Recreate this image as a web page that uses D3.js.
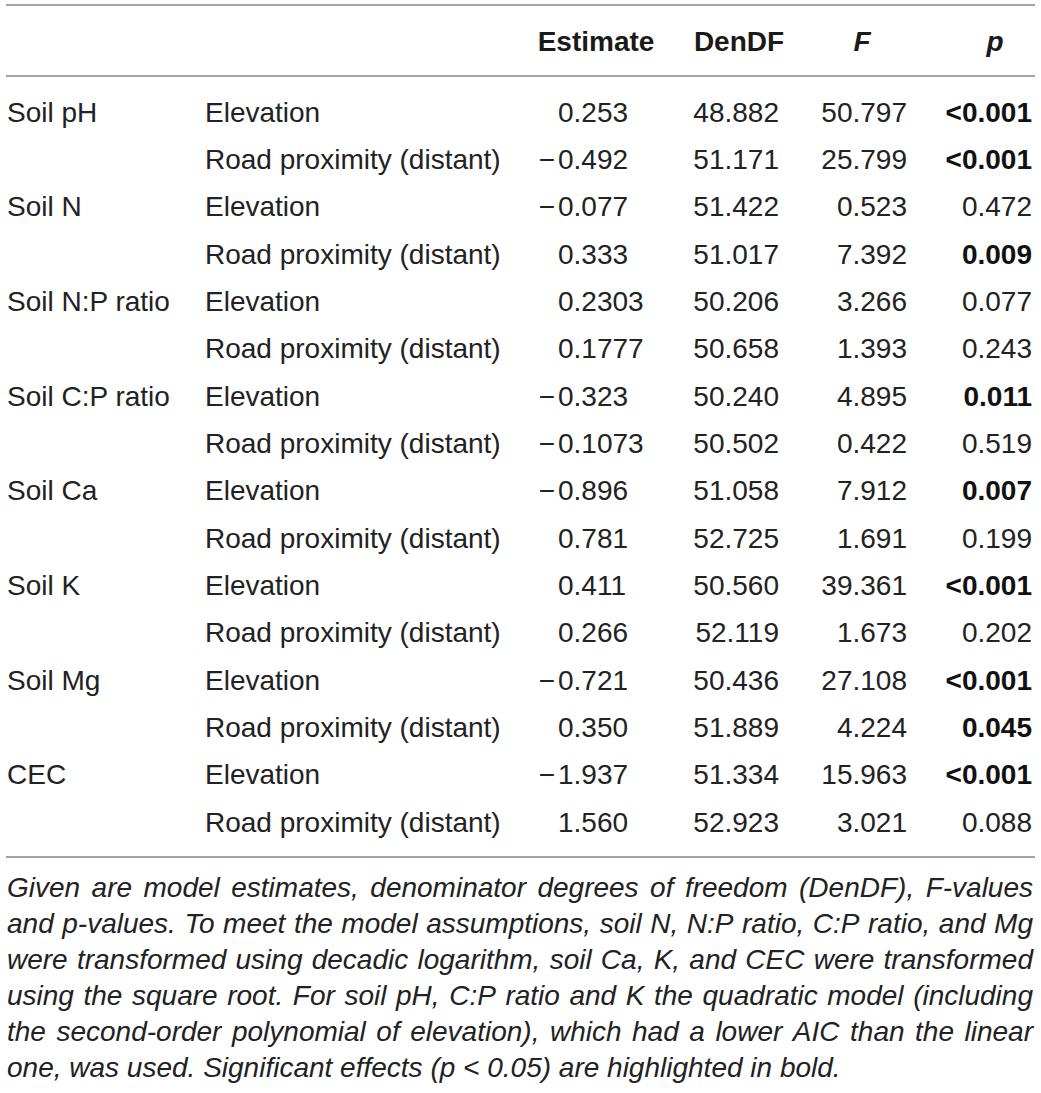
<!DOCTYPE html>
<html>
<head>
<meta charset="utf-8">
<style>
	body { margin: 0; background: #fff; }
	text { font-family: "Liberation Sans", Arial, Helvetica, sans-serif; fill: #222; }
</style>
</head>
<body>
<div id="chart"></div>
<script src="https://cdn.jsdelivr.net/npm/d3@7"></script>
<script>
	// table contents
	var responses = ["Soil pH", "Soil N", "Soil N:P ratio", "Soil C:P ratio", "Soil Ca", "Soil K", "Soil Mg", "CEC"];
	var predictors = ["Elevation", "Road proximity (distant)"];
	var estimates = ["0.253", "-0.492", "-0.077", "0.333", "0.2303", "0.1777", "-0.323", "-0.1073",
		"-0.896", "0.781", "0.411", "0.266", "-0.721", "0.350", "-1.937", "1.560"];
	var denDF = ["48.882", "51.171", "51.422", "51.017", "50.206", "50.658", "50.240", "50.502",
		"51.058", "52.725", "50.560", "52.119", "50.436", "51.889", "51.334", "52.923"];
	var fValues = ["50.797", "25.799", "0.523", "7.392", "3.266", "1.393", "4.895", "0.422",
		"7.912", "1.691", "39.361", "1.673", "27.108", "4.224", "15.963", "3.021"];
	var pValues = ["<0.001", "<0.001", "0.472", "0.009", "0.077", "0.243", "0.011", "0.519",
		"0.007", "0.199", "<0.001", "0.202", "<0.001", "0.045", "<0.001", "0.088"];
	var headers = ["Estimate", "DenDF", "F", "p"];
	var captionLines = [
		"Given are model estimates, denominator degrees of freedom (DenDF), F-values",
		"and p-values. To meet the model assumptions, soil N, N:P ratio, C:P ratio, and Mg",
		"were transformed using decadic logarithm, soil Ca, K, and CEC were transformed",
		"using the square root. For soil pH, C:P ratio and K the quadratic model (including",
		"the second-order polynomial of elevation), which had a lower AIC than the linear",
		"one, was used. Significant effects (p < 0.05) are highlighted in bold."
	];

	var W = 1041, H = 1093;
	var svg = d3.select('#chart').append('svg')
		.attr('width', W)
		.attr('height', H)

	var rows = estimates.map((e, i) => ({
		i: i,
		response: i % 2 === 0 ? responses[i / 2] : '',
		predictor: predictors[i % 2],
		est: e,
		df: denDF[i],
		f: fValues[i],
		p: pValues[i],
		sig: pValues[i].charAt(0) === '<' || +pValues[i] < 0.05
	}));

	var y = d3.scalePoint()
		.domain(d3.range(rows.length))
		.range([112, 822])

	var fs = 28;
	var colResp = 7, colPred = 205, colEst = 558, colDf = 779, colF = 907, colP = 1032;

	// rules
	var ruleY = [5, 76, 857];
	svg.selectAll('line.rule')
		.data(ruleY)
		.enter().append('line')
		.attr('class', 'rule')
		.attr('x1', 6)
		.attr('x2', 1035)
		.attr('y1', d => d)
		.attr('y2', d => d)
		.attr('stroke', '#a3a3a3')
		.attr('stroke-width', 2)

	// header
	var headX = [596, 739, 862, 995];
	svg.selectAll('text.head')
		.data(headers)
		.enter().append('text')
		.attr('class', 'head')
		.attr('x', (d, i) => headX[i])
		.attr('y', 41)
		.attr('dy', '0.35em')
		.attr('text-anchor', 'middle')
		.attr('font-size', fs)
		.attr('font-weight', 'bold')
		.attr('font-style', (d, i) => i >= 2 ? 'italic' : 'normal')
		.style('fill', '#1a1a1a')
		.text(d => d)

	var row = svg.selectAll('g.row')
		.data(rows)
		.enter().append('g')
		.attr('class', 'row')
		.attr('transform', d => 'translate(0,' + y(d.i) + ')')

	function cell(sel, x, anchor, fn) {
		return sel.append('text')
			.attr('x', x)
			.attr('dy', '0.35em')
			.attr('text-anchor', anchor)
			.attr('font-size', fs)
			.text(fn)
	}

	cell(row, colResp, 'start', d => d.response)
	cell(row, colPred, 'start', d => d.predictor)
	// estimates: minus hangs left of the first digit
	cell(row, colEst - 3, 'end', d => d.est.charAt(0) === '-' ? '\u2212' : '')
	cell(row, colEst, 'start', d => d.est.replace('-', ''))
	cell(row, colDf, 'end', d => d.df)
	cell(row, colF, 'end', d => d.f)
	cell(row, colP, 'end', d => d.p)
		.attr('font-weight', d => d.sig ? 'bold' : 'normal')
		.style('fill', d => d.sig ? '#111' : '#222')

	// caption, justified between left and right margins
	var capLeft = 7, capRight = 1033, capFs = 28;
	var capY = d3.scaleLinear()
		.domain([0, captionLines.length - 1])
		.range([887, 1067])

	captionLines.forEach((line, li) => {
		var words = line.split(' ');
		var t = svg.append('text')
			.attr('class', 'caption')
			.attr('y', capY(li))
			.attr('dy', '0.35em')
			.attr('font-size', capFs)
			.attr('font-style', 'italic')
		var spans = words.map(w => t.append('tspan').text(w));
		var widths = spans.map(s => s.node().getComputedTextLength());
		var total = d3.sum(widths);
		var last = li === captionLines.length - 1;
		var gap = last ? capFs * 0.278 : (capRight - capLeft - total) / (words.length - 1);
		var x = capLeft;
		spans.forEach((s, k) => {
			s.attr('x', x);
			x += widths[k] + gap;
		});
	});
</script>
</body>
</html>
